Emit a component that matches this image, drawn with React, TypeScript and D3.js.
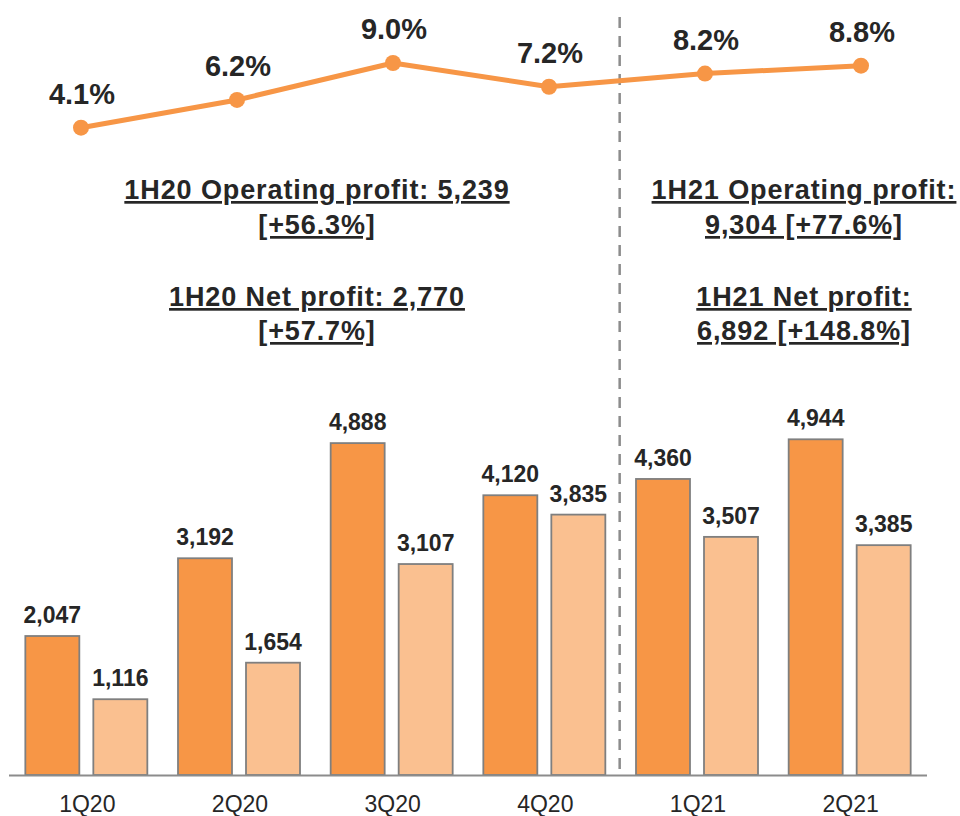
import React from "react";
import * as d3 from "d3";

const categories = ["1Q20", "2Q20", "3Q20", "4Q20", "1Q21", "2Q21"];
const operatingProfit = [2047, 3192, 4888, 4120, 4360, 4944];
const netProfit = [1116, 1654, 3107, 3835, 3507, 3385];
const marginPct = [4.1, 6.2, 9.0, 7.2, 8.2, 8.8];
const seriesKeys = ["op", "np"];
const block1H20 = ["1H20 Operating profit: 5,239", "[+56.3%]", "1H20 Net profit: 2,770", "[+57.7%]"];
const block1H21 = ["1H21 Operating profit:", "9,304 [+77.6%]", "1H21 Net profit:", "6,892 [+148.8%]"];

const W = 960;
const H = 816;
const FONT = "'Liberation Sans', Arial, Helvetica, sans-serif";
const TEXT = "#262626";
const DARK = "#F79646";
const LIGHT = "#FAC090";
const STROKE = "#7F7F7F";

export default function App() {
  const x0 = d3.scaleBand<string>().domain(categories).range([10, 926]).padding(0);
  const x1 = d3
    .scaleBand<string>()
    .domain(seriesKeys)
    .range([0, x0.bandwidth()])
    .paddingInner(0.206)
    .paddingOuter(0.2255);
  const y = d3.scaleLinear().domain([0, 5000]).range([775, 435.5]);

  const xl = d3.scalePoint<string>().domain(categories).range([81, 861]);
  const yl = d3.scaleLinear().domain([0, 10]).range([181.8, 49.8]);
  const line = d3
    .line<number>()
    .x((_, i) => xl(categories[i]) as number)
    .y((d) => yl(d));

  const fmt = d3.format(",");
  const lineYs = [199, 234, 306, 340];

  const bars: { cat: string; key: string; v: number }[] = [];
  categories.forEach((c, i) => {
    bars.push({ cat: c, key: "op", v: operatingProfit[i] });
    bars.push({ cat: c, key: "np", v: netProfit[i] });
  });

  const dividerX = (x0(categories[4]) as number) - 1;

  return (
    <svg
      width={W}
      height={H}
      style={{ position: "absolute", left: 0, top: 0, background: "#fff" }}
      fontFamily={FONT}
    >
      <rect x={0} y={0} width={W} height={H} fill="#fff" />
      {/* divider */}
      <line
        x1={dividerX}
        x2={dividerX}
        y1={17}
        y2={775}
        stroke="#8C8C8C"
        strokeWidth={2.5}
        strokeDasharray="11 8"
      />
      {/* bars */}
      {bars.map((b, i) => {
        const bx = (x0(b.cat) as number) + (x1(b.key) as number);
        const by = y(b.v);
        return (
          <g key={i}>
            <rect
              x={bx}
              y={by}
              width={x1.bandwidth()}
              height={y(0) - by}
              fill={b.key === "op" ? DARK : LIGHT}
              stroke={STROKE}
              strokeWidth={1.8}
            />
            <text
              x={bx + x1.bandwidth() / 2}
              y={by - 13}
              textAnchor="middle"
              fontSize={23}
              fontWeight="bold"
              fill={TEXT}
            >
              {fmt(b.v)}
            </text>
          </g>
        );
      })}
      {/* axis */}
      <line x1={9} x2={927} y1={775.5} y2={775.5} stroke="#8C8C8C" strokeWidth={2} />
      {categories.map((c) => (
        <text
          key={c}
          x={(x0(c) as number) + x0.bandwidth() / 2 + 1}
          y={812}
          textAnchor="middle"
          fontSize={23}
          fill={TEXT}
        >
          {c}
        </text>
      ))}
      {/* margin line */}
      <path d={line(marginPct) || ""} fill="none" stroke={DARK} strokeWidth={5} strokeLinejoin="round" />
      {marginPct.map((v, i) => (
        <g key={i}>
          <circle cx={xl(categories[i])} cy={yl(v)} r={8} fill={DARK} />
          <text
            x={(xl(categories[i]) as number) + 1}
            y={yl(v) - 24}
            textAnchor="middle"
            fontSize={29}
            fontWeight="bold"
            fill={TEXT}
          >
            {v.toFixed(1) + "%"}
          </text>
        </g>
      ))}
      {/* annotations */}
      {block1H20.map((t, i) => (
        <text
          key={"a" + i}
          x={317}
          y={lineYs[i]}
          textAnchor="middle"
          fontSize={27}
          fontWeight="bold"
          letterSpacing={0.9}
          fill={TEXT}
          style={{ textDecoration: "underline" }}
        >
          {t}
        </text>
      ))}
      {block1H21.map((t, i) => (
        <text
          key={"b" + i}
          x={804}
          y={lineYs[i]}
          textAnchor="middle"
          fontSize={27}
          fontWeight="bold"
          letterSpacing={0.9}
          fill={TEXT}
          style={{ textDecoration: "underline" }}
        >
          {t}
        </text>
      ))}
    </svg>
  );
}
